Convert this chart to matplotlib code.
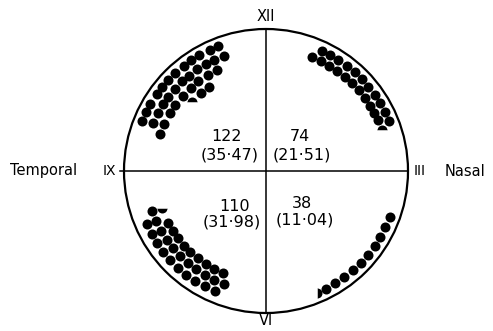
import numpy as np
import matplotlib
matplotlib.use("Agg")
import matplotlib.pyplot as plt
from matplotlib.patches import Circle

# 各象限的点: 每一行 = (离心率, 角度列表), 圆半径 = 1, 角度从鼻侧水平线逆时针
sup_temp_ecc = [0.94, 0.865, 0.79, 0.715]
sup_temp_ang = [
    [111, 115, 120, 124, 128, 133, 137, 141, 145, 150, 154, 158],
    [110, 115, 119, 124, 129, 133, 138, 143, 147, 152, 157],
    [116, 121, 127, 132, 138, 144, 149, 155, 161],
    [124, 130],
]
sup_nasal_ecc = [0.935, 0.865]
sup_nasal_ang = [
    [65, 61, 57, 52.5, 48, 44, 39.5, 35, 31, 26.5, 22],
    [68, 63.5, 59, 54.5, 50, 45.5, 41, 36.5, 32, 28, 24.4],
]
inf_temp_ecc = [0.92, 0.85, 0.78]
inf_temp_ang = [
    [204, 208.8, 213.5, 218.3, 223, 227.8, 232.5, 237.3, 242, 246.8],
    [199.6, 204.6, 209.6, 214.6, 219.6, 224.6, 229.6, 234.6, 239.6, 244.6, 249.6],
    [208, 213, 217.5, 222.5, 227, 232, 237, 242, 247.3],
]
inf_nasal_ecc = [0.93]
inf_nasal_ang = [
    [297, 301.7, 306.4, 311.2, 315.9, 320.6, 325.3, 330, 334.8, 339.5],
]
# 半个点 (角度, 离心率, 哪一半)
partial_ang = [137, 19.5, 199.7, 292.5]
partial_ecc = [0.715, 0.87, 0.78, 0.93]
partial_half = ['top', 'top', 'bottom', 'right']

# 象限的数字和百分比
quad_counts = ['122', '74', '110', '38']
quad_pct = ['(35·47)', '(21·51)', '(31·98)', '(11·04)']


def polar_xy(ecc, ang):
    a = np.radians(ang)
    return ecc * np.cos(a), ecc * np.sin(a)


fig = plt.figure(figsize=(4.93, 3.31), dpi=100)
ax = fig.add_axes([0, 0, 1, 1])
ax.set_xlim(-266 / 142, 227 / 142)
ax.set_ylim(-160 / 142, 171 / 142)
ax.set_aspect('equal')
ax.axis('off')

# 外圆和十字线
ax.add_patch(Circle((0, 0), 1.0, fill=False, lw=1.6, color='black'))
ax.plot([-1.03, 1.0], [0, 0], color='black', lw=1.1)
ax.plot([0, 0], [-1.0, 1.0], color='black', lw=1.1)

# 画所有的点
for eccs, angs in [(sup_temp_ecc, sup_temp_ang), (sup_nasal_ecc, sup_nasal_ang),
                   (inf_temp_ecc, inf_temp_ang), (inf_nasal_ecc, inf_nasal_ang)]:
    for e, row in zip(eccs, angs):
        x, y = polar_xy(e, np.array(row))
        ax.scatter(x, y, s=52, color='black', linewidths=0)

for a, e, half in zip(partial_ang, partial_ecc, partial_half):
    x, y = polar_xy(e, a)
    ax.plot(x, y, marker='o', markersize=7.2, fillstyle=half, color='black',
            markerfacecoloralt='white', markeredgewidth=0, linestyle='none')

# 标签
ax.text(0, 1.09, 'XII', ha='center', va='center', fontsize=10.5)
ax.text(0, -1.056, 'VI', ha='center', va='center', fontsize=10.5)
ax.text(-1.106, 0, 'IX', ha='center', va='center', fontsize=10)
ax.text(1.085, 0, 'III', ha='center', va='center', fontsize=10)
ax.text(-1.563, 0, 'Temporal', ha='center', va='center', fontsize=10.5)
ax.text(1.401, 0, 'Nasal', ha='center', va='center', fontsize=10.5)

count_pos = [(-0.275, 0.242), (0.239, 0.242), (-0.218, -0.251), (0.251, -0.228)]
pct_pos = [(-0.254, 0.113), (0.251, 0.113), (-0.242, -0.357), (0.275, -0.346)]
for c, p, cp, pp in zip(quad_counts, quad_pct, count_pos, pct_pos):
    ax.text(cp[0], cp[1], c, ha='center', va='center', fontsize=11.5)
    ax.text(pp[0], pp[1], p, ha='center', va='center', fontsize=11.5)

fig.savefig('out.png', dpi=100)
